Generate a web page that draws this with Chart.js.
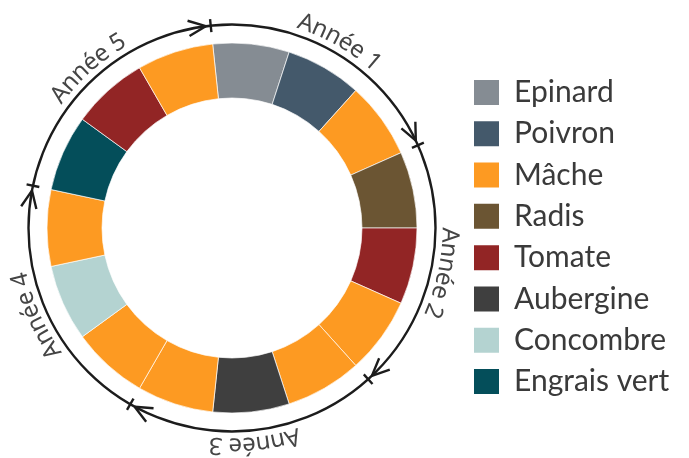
<!DOCTYPE html>
<html>
<head>
<meta charset="utf-8">
<script src="https://cdn.jsdelivr.net/npm/chart.js@4.4.0/dist/chart.umd.min.js"></script>
<style>
  html, body { margin: 0; background: #fff; }
  #wrap { width: 689px; height: 458px; }
</style>
</head>
<body>
<div id="wrap"><canvas id="rotation"></canvas></div>
<script>
// one slice per crop, clockwise from the start of year 1
const crops = ['Epinard', 'Poivron', 'Mâche', 'Radis', 'Tomate', 'Mâche', 'Mâche', 'Aubergine',
               'Mâche', 'Mâche', 'Concombre', 'Mâche', 'Engrais vert', 'Tomate', 'Mâche'];
const shares = [1, 1, 1, 1, 1, 1, 1, 1, 1, 1, 1, 1, 1, 1, 1];
const years = ['Année 1', 'Année 2', 'Année 3', 'Année 4', 'Année 5'];
const cropNames = ['Epinard', 'Poivron', 'Mâche', 'Radis', 'Tomate', 'Aubergine', 'Concombre', 'Engrais vert'];
const cropColors = ['#858c93', '#44596b', '#fd9a22', '#6b5533', '#922525', '#3f3f3f', '#b4d3d1', '#044e5a'];

const slicesPerYear = crops.length / years.length;
const outerR = 185, innerR = 130, ringR = 203.5;
const legendFont = 30, legendPad = 11.3;

// measure the longest legend label so the legend sits where it should
const mctx = document.createElement('canvas').getContext('2d');
mctx.font = legendFont + 'px Lato';
const tw = Math.max(...cropNames.map(n => mctx.measureText(n).width));
const legendLeft = 462.7;
const padRight = 689 - legendLeft - (legendPad + 25 + legendFont / 2 + tw + 10);

const yearRing = {
    id: 'yearRing',
    afterDatasetsDraw(chart) {
        const ctx = chart.ctx;
        const arcs = chart.getDatasetMeta(0).data;
        const cx = arcs[0].x, cy = arcs[0].y;
        ctx.save();
        ctx.strokeStyle = '#1c1c1c';
        ctx.lineWidth = 2.4;
        ctx.lineCap = 'butt';
        ctx.beginPath();
        ctx.arc(cx, cy, ringR, 0, Math.PI * 2);
        ctx.stroke();

        years.forEach((label, k) => {
            const a0 = arcs[k * slicesPerYear].startAngle;
            const a1 = arcs[k * slicesPerYear + slicesPerYear - 1].endAngle;

            // tick at the start of the year
            ctx.beginPath();
            ctx.moveTo(cx + (ringR - 6.5) * Math.cos(a0), cy + (ringR - 6.5) * Math.sin(a0));
            ctx.lineTo(cx + (ringR + 6.5) * Math.cos(a0), cy + (ringR + 6.5) * Math.sin(a0));
            ctx.stroke();

            // open arrow head just before the next tick
            const t = a1 - 5 / ringR;
            const tx = cx + ringR * Math.cos(t), ty = cy + ringR * Math.sin(t);
            const bx = Math.sin(t), by = -Math.cos(t);
            ctx.beginPath();
            [-24, 24].forEach(deg => {
                const r = deg * Math.PI / 180;
                const ax = bx * Math.cos(r) - by * Math.sin(r);
                const ay = bx * Math.sin(r) + by * Math.cos(r);
                ctx.moveTo(tx, ty);
                ctx.lineTo(tx + 19 * ax, ty + 19 * ay);
            });
            ctx.stroke();

            // curved label centred on the year
            ctx.font = '24px "Noto Sans"';
            ctx.fillStyle = '#454545';
            ctx.textAlign = 'center';
            ctx.textBaseline = 'alphabetic';
            const mid = (a0 + a1) / 2;
            const rText = 217, rBase = 210.5;
            const total = ctx.measureText(label).width;
            let acc = 0;
            for (const ch of label) {
                const w = ctx.measureText(ch).width;
                const ang = mid + (acc + w / 2 - total / 2) / rText;
                ctx.save();
                ctx.translate(cx + rBase * Math.cos(ang), cy + rBase * Math.sin(ang));
                ctx.rotate(ang + Math.PI / 2);
                ctx.fillText(ch, 0, 0);
                ctx.restore();
                acc += w;
            }
        });
        ctx.restore();
    }
};

new Chart(document.getElementById('rotation'), {
    type: 'doughnut',
    data: {
        labels: crops,
        datasets: [{
            data: shares,
            backgroundColor: crops.map(c => cropColors[cropNames.indexOf(c)]),
            borderColor: 'rgba(255,255,255,0.85)',
            borderWidth: 0.8
        }]
    },
    options: {
        responsive: true,
        maintainAspectRatio: false,
        animation: false,
        events: [],
        rotation: -6,
        radius: outerR,
        cutout: (innerR / outerR * 100) + '%',
        layout: { padding: { left: 2 * 232 - legendLeft, right: padRight, top: 0, bottom: 2 } },
        plugins: {
            tooltip: { enabled: false },
            legend: {
                position: 'right',
                title: { display: true, text: '', padding: 0, font: { size: 15, lineHeight: 1.2 } },
                labels: {
                    boxWidth: 25,
                    boxHeight: 25,
                    padding: legendPad,
                    color: '#3a3a3a',
                    font: { family: 'Lato', size: legendFont },
                    generateLabels: chart => Chart.overrides.doughnut.plugins.legend.labels
                        .generateLabels(chart)
                        .filter(it => crops.indexOf(it.text) === it.index)
                        .map(it => ({ ...it, lineWidth: 0 }))
                }
            }
        }
    },
    plugins: [yearRing]
});
</script>
</body>
</html>
